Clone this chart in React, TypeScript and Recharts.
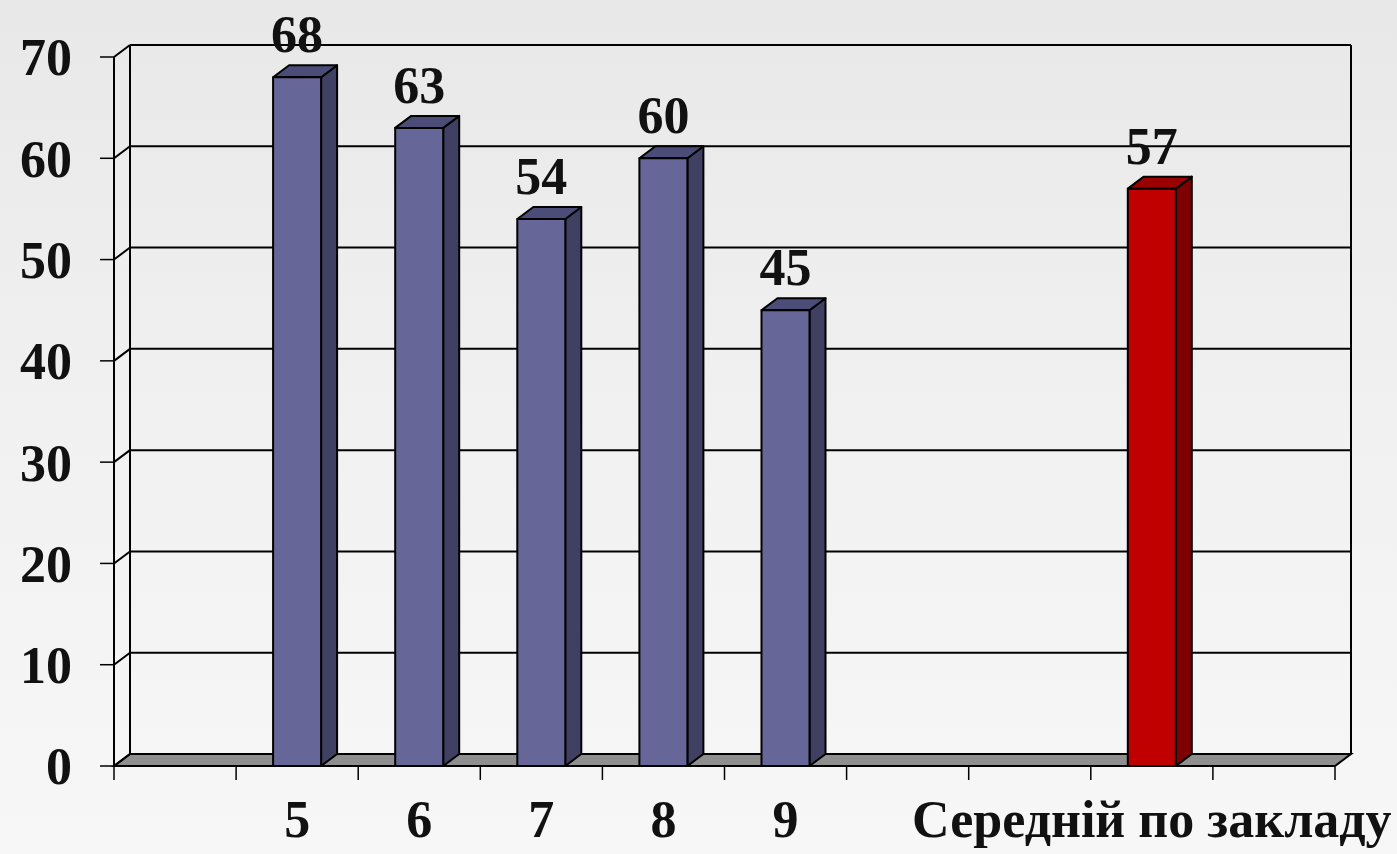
import { BarChart, Bar, XAxis, YAxis, CartesianGrid, LabelList } from "recharts";

const categories = ["", "5", "6", "7", "8", "9", "", "", "Середній по закладу", ""];
const values = [null, 68, 63, 54, 60, 45, null, null, 57, null];
const yTicks = [0, 10, 20, 30, 40, 50, 60, 70];

const data = categories.map((name, i) => ({ name, value: values[i] }));

// plot geometry (front plane) and 3D depth
const W = 1397;
const H = 854;
const TOP = 57;
const BOTTOM = 766;
const LEFT = 114;
const RIGHT = 1335;
const DX = 16;
const DY = 12;
const FONT = "'Liberation Serif', 'Times New Roman', serif";
const FS = 52;

const colorsFor = (name: string) =>
  name === "Середній по закладу"
    ? { front: "#c00000", side: "#7f0000", top: "#9a0000" }
    : { front: "#666699", side: "#404062", top: "#4c4c78" };

function Bar3D(props: any) {
  const { x, y, width, height, payload } = props;
  if (!height || height <= 0) return <g />;
  const c = colorsFor(payload.name);
  const r = x + width;
  const b = y + height;
  return (
    <g stroke="#000" strokeWidth={2} strokeLinejoin="round">
      <polygon points={`${r},${y} ${r + DX},${y - DY} ${r + DX},${b - DY} ${r},${b}`} fill={c.side} />
      <polygon points={`${x},${y} ${x + DX},${y - DY} ${r + DX},${y - DY} ${r},${y}`} fill={c.top} />
      <rect x={x} y={y} width={width} height={height} fill={c.front} />
    </g>
  );
}

function GridLine(p: any) {
  const { x1, x2, y1, key } = p;
  const y = y1;
  const floor = Math.abs(y - BOTTOM) < 1;
  return (
    <g key={key} stroke="#000" strokeWidth={2} fill="none">
      {floor && (
        <>
          <line x1={x1 + DX} y1={TOP - DY} x2={x1 + DX} y2={y - DY} />
          <line x1={x2 + DX} y1={TOP - DY} x2={x2 + DX} y2={y - DY} />
          <polygon
            points={`${x1},${y} ${x2},${y} ${x2 + DX},${y - DY} ${x1 + DX},${y - DY}`}
            fill="#8f8f8f"
          />
        </>
      )}
      <line x1={x1} y1={y} x2={x1 + DX} y2={y - DY} />
      <line x1={x1 + DX} y1={y - DY} x2={x2 + DX} y2={y - DY} />
    </g>
  );
}

function XTick(props: any) {
  const { payload, index } = props;
  const cx = payload.coordinate;
  const bw = (RIGHT - LEFT) / categories.length;
  const last = index === categories.length - 1;
  return (
    <g>
      <line x1={cx - bw / 2} y1={BOTTOM} x2={cx - bw / 2} y2={BOTTOM + 14} stroke="#000" strokeWidth={1.5} />
      {last && (
        <line x1={cx + bw / 2} y1={BOTTOM} x2={cx + bw / 2} y2={BOTTOM + 14} stroke="#000" strokeWidth={1.5} />
      )}
      <text x={cx} y={BOTTOM + 71} textAnchor="middle" fontFamily={FONT} fontWeight="bold" fontSize={FS} fill="#111">
        {payload.value}
      </text>
    </g>
  );
}

function ValueLabel(props: any) {
  const { x, y, width, value } = props;
  if (value == null) return null;
  return (
    <text x={x + width / 2} y={y - 25} textAnchor="middle" fontFamily={FONT} fontWeight="bold" fontSize={FS} fill="#111">
      {value}
    </text>
  );
}

export default function App() {
  return (
    <div
      style={{
        position: "fixed",
        left: 0,
        top: 0,
        width: W,
        height: H,
        background: "linear-gradient(180deg, #e8e8e8 0%, #f1f1f1 50%, #f7f7f7 100%)",
      }}
    >
      <BarChart
        width={W}
        height={H}
        data={data}
        margin={{ top: TOP, right: W - RIGHT, bottom: H - BOTTOM - 40, left: LEFT - 100 }}
      >
        <CartesianGrid vertical={false} horizontal={GridLine} />
        <XAxis
          dataKey="name"
          height={40}
          interval={0}
          tickLine={false}
          tickSize={0}
          tickMargin={0}
          axisLine={{ stroke: "#000", strokeWidth: 2 }}
          tick={XTick}
        />
        <YAxis
          width={100}
          domain={[0, 70]}
          ticks={yTicks}
          interval={0}
          tickSize={14}
          tickMargin={28}
          axisLine={{ stroke: "#000", strokeWidth: 2 }}
          tickLine={{ stroke: "#000", strokeWidth: 1.5 }}
          tick={{ fontFamily: FONT, fontWeight: "bold", fontSize: FS, fill: "#111" }}
        />
        <Bar dataKey="value" barSize={48} shape={Bar3D} isAnimationActive={false}>
          <LabelList dataKey="value" content={ValueLabel} />
        </Bar>
      </BarChart>
    </div>
  );
}
